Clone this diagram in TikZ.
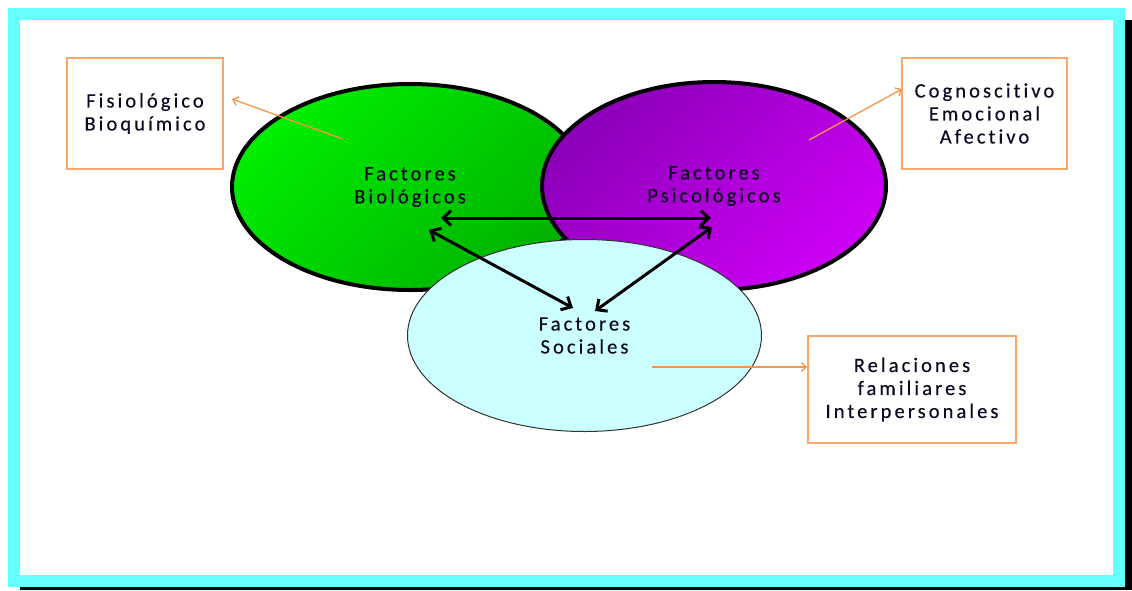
\documentclass[tikz,border=0pt]{standalone}
\usepackage{fontspec}
\setmainfont{Carlito}[LetterSpace=15,Ligatures={NoCommon},FakeBold=0.4]
\usetikzlibrary{shapes.geometric,arrows.meta}
\definecolor{framecyan}{RGB}{102,255,255}
\definecolor{gLight}{RGB}{0,238,0}
\definecolor{gDark}{RGB}{0,178,0}
\definecolor{pDark}{RGB}{140,0,185}
\definecolor{pLight}{RGB}{205,0,245}
\definecolor{socfill}{RGB}{204,255,255}
\definecolor{orangeline}{RGB}{247,150,70}
\definecolor{orangebox}{RGB}{250,165,105}
\definecolor{ink}{RGB}{15,10,35}
\begin{document}
\begin{tikzpicture}[x=1pt,y=-1pt,
  txt/.style={font=\fontsize{20.5}{23}\selectfont, text=ink, align=center},
  bigell/.style={ellipse, draw=black, line width=4pt, inner sep=0pt, txt},
  infobox/.style={draw=orangebox, line width=1.6pt, fill=white, inner sep=0pt, txt},
  link/.style={draw=black, line width=3pt, {Straight Barb[length=8pt,width=15pt]}-{Straight Barb[length=8pt,width=15pt]}},
  note/.style={draw=orangeline, line width=1.3pt, -{Straight Barb[length=5pt,width=9pt]}}
]
\useasboundingbox (0,0) rectangle (1132,590);
% frame with shadow
\fill[black] (20,20) rectangle (1132,590);
\fill[framecyan] (8,8) rectangle (1125,587);
\fill[white] (20,20) rectangle (1113,575);

% circles
\node[bigell, minimum width=356pt, minimum height=206pt,
      left color=gLight, right color=gDark, shading angle=45]
  (bio) at (410,187) {Factores\\Biológicos};
\node[bigell, minimum width=344pt, minimum height=208pt,
      left color=pDark, right color=pLight, shading angle=45]
  (psi) at (714,186) {Factores\\Psicológicos};
\node[ellipse, draw=black!80, line width=1pt, fill=socfill, inner sep=0pt, txt,
      minimum width=354pt, minimum height=192pt]
  (soc) at (584.5,335.5) {Factores\\Sociales};

% boxes
\node[infobox, minimum width=156pt, minimum height=111pt] (boxbio) at (145,113.5) {Fisiológico\\Bioquímico};
\node[infobox, minimum width=165pt, minimum height=111pt] (boxpsi) at (984.5,113.5) {Cognoscitivo\\Emocional\\Afectivo};
\node[infobox, minimum width=208pt, minimum height=107pt] (boxsoc) at (912,389.5) {Relaciones\\familiares\\Interpersonales};

% black arrow end points
\coordinate (bA) at (441,218);
\coordinate (pA) at (711,218);
\coordinate (bB) at (429,230);
\coordinate (sB) at (573,308);
\coordinate (pC) at (712,227);
\coordinate (sC) at (595,311);
\draw[link] (bA) -- (pA);
\draw[link] (bB) -- (sB);
\draw[link] (pC) -- (sC);

% orange pointers
\coordinate (tbio) at (343,139);
\coordinate (hbio) at (232,99);
\coordinate (tpsi) at (809,140);
\coordinate (hpsi) at (902,89);
\coordinate (tsoc) at (652,367);
\coordinate (hsoc) at (boxsoc.west |- tsoc);
\draw[note] (tbio) -- (hbio);
\draw[note] (tpsi) -- (hpsi);
\draw[note] (tsoc) -- (hsoc);
\end{tikzpicture}
\end{document}
